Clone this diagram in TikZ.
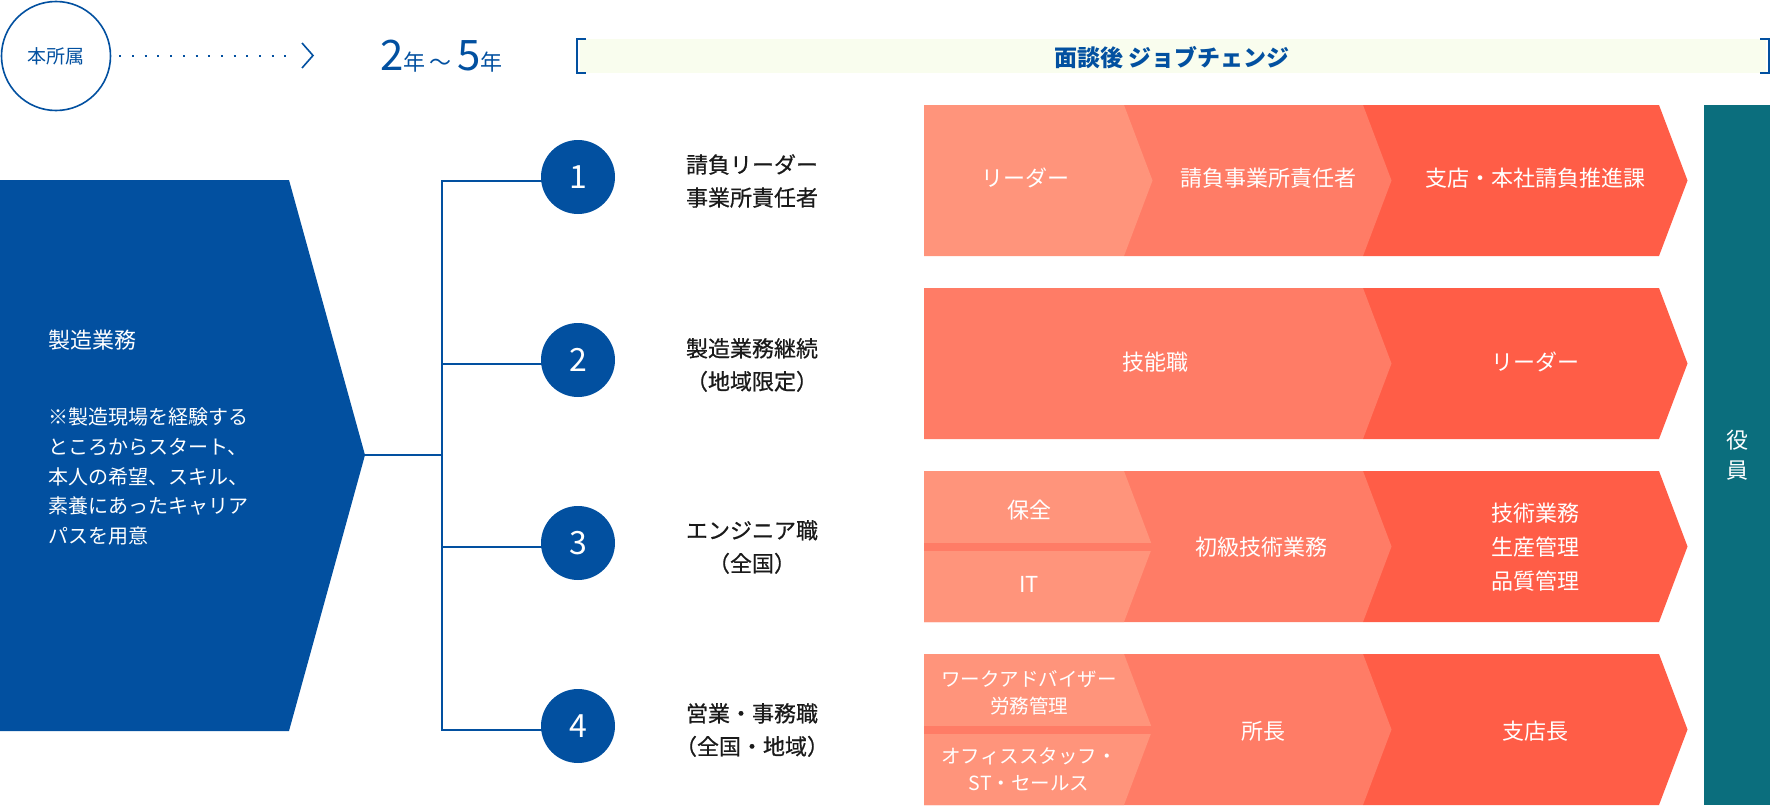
\documentclass[tikz,border=0pt]{standalone}
\usepackage{fontspec}
\setmainfont{Noto Sans CJK JP}
\newfontfamily\labelfont[FakeBold=0.6]{Noto Sans CJK JP}
\definecolor{cBrand}{HTML}{0250A0}
\definecolor{cLight}{HTML}{FF947B}
\definecolor{cMid}{HTML}{FF7C66}
\definecolor{cStrong}{HTML}{FF5D47}
\definecolor{cTeal}{HTML}{0B6E7D}
\definecolor{cInk}{HTML}{1A1A1A}
\definecolor{cPale}{HTML}{F9FDEE}
\newcommand\chevseg[5]{\fill[#5] (#1,#3) -- (#2,#3) -- ({#2+28.5},{(#3+#4)/2}) -- (#2,#4) -- (#1,#4) -- cycle;}
\tikzset{
  wt/.style={text=white, font=\fontsize{22}{34}\selectfont, inner sep=0pt, align=center},
  wtsmall/.style={text=white, font=\fontsize{19.5}{27}\selectfont, inner sep=0pt, align=center},
  lbl/.style={text=cInk, font=\labelfont\fontsize{22}{33}\selectfont, inner sep=0pt, align=center},
  num/.style={circle, fill=cBrand, minimum size=74pt, inner sep=0pt, text=white, font=\fontsize{32}{32}\selectfont},
  trunk/.style={draw=cBrand, line width=2.7pt},
  dotline/.style={draw=cBrand, line width=2pt, dash pattern=on 2pt off 10.7pt},
  bracketline/.style={draw=cBrand, line width=1.6pt},
}
\begin{document}
\begin{tikzpicture}[x=1pt,y=-1pt]
\useasboundingbox (0,0) rectangle (1772,811);

% ---- top line ----
\node[circle, draw=cBrand, line width=1.6pt, minimum size=109pt, inner sep=0pt,
      text=cBrand, font=\fontsize{19}{19}\selectfont] (hq) at (56,56) {本所属};
\coordinate (dotend) at (294,56);
\draw[dotline] ([xshift=8pt]hq.east) -- (dotend);
\draw[cBrand, line width=1.6pt] (302,43) -- (313,55.5) -- (302,68);
\node[anchor=base west, inner sep=0pt, text=cBrand] (years) at (380,70)
  {{\fontsize{42}{42}\selectfont 2}{\fontsize{22}{22}\selectfont 年\hspace{4pt}～\hspace{6pt}}{\fontsize{42}{42}\selectfont 5}{\fontsize{22}{22}\selectfont 年}};
\fill[cPale] (580,39) rectangle (1766,73);
\draw[bracketline] (586,39) -- (577,39) -- (577,73) -- (586,73);
\draw[bracketline] (1760,39) -- (1769,39) -- (1769,73) -- (1760,73);
\node[text=cBrand, font=\bfseries\fontsize{23}{23}\selectfont, inner sep=0pt] (change) at (1172,58) {面談後 ジョブチェンジ};

% ---- left block ----
\fill[cBrand] (0,180) -- (289,180) -- (365,455) -- (289,731) -- (0,731) -- cycle;
\coordinate (tip) at (365,455);
\node[anchor=west, inner sep=0pt, text=white, font=\fontsize{22}{22}\selectfont] (mfg) at (48,340) {製造業務};
\node[anchor=west, inner sep=0pt, text=white, align=left, font=\fontsize{20}{29.8}\selectfont] (note) at (48,476.5)
  {※製造現場を経験する\\ところからスタート、\\本人の希望、スキル、\\素養にあったキャリア\\パスを用意};

% ---- tree ----
\coordinate (j0) at (442,455);
\coordinate (j1) at (442,181);
\coordinate (j2) at (442,364);
\coordinate (j3) at (442,547);
\coordinate (j4) at (442,730);
\coordinate (c1p) at (578,177);
\coordinate (c2p) at (578,360);
\coordinate (c3p) at (578,543);
\coordinate (c4p) at (578,726);
\draw[trunk] (tip) -- (j0);
\draw[trunk, line join=miter] (j1 -| c1p) -- (j1) -- (j4) -- (j4 -| c4p);
\draw[trunk] (j2) -- (j2 -| c2p);
\draw[trunk] (j3) -- (j3 -| c3p);
\node[num] (c1) at (c1p) {1};
\node[num] (c2) at (c2p) {2};
\node[num] (c3) at (c3p) {3};
\node[num] (c4) at (c4p) {4};

\node[lbl] (l1) at (752,181) {請負リーダー\\事業所責任者};
\node[lbl] (l2) at (752,365) {製造業務継続\\（地域限定）};
\node[lbl] (l3) at (752,547) {エンジニア職\\（全国）};
\node[lbl] (l4) at (752,730) {営業・事務職\\（全国・地域）};

% ---- row 1 ----
\chevseg{1363}{1659}{105}{256}{cStrong}
\chevseg{1124}{1363}{105}{256}{cMid}
\chevseg{924}{1124}{105}{256}{cLight}
\node[wt] (r1a) at (1025,178) {リーダー};
\node[wt] (r1b) at (1268,178) {請負事業所責任者};
\node[wt] (r1c) at (1535,178) {支店・本社請負推進課};

% ---- row 2 ----
\chevseg{1363}{1659}{288}{439}{cStrong}
\chevseg{924}{1363}{288}{439}{cMid}
\node[wt] (r2a) at (1155,362) {技能職};
\node[wt] (r2b) at (1535,362) {リーダー};

% ---- row 3 ----
\chevseg{1363}{1659}{471}{622}{cStrong}
\chevseg{924}{1363}{471}{622}{cMid}
\chevseg{924}{1124}{471}{622}{cLight}
\fill[cMid] (924,543) rectangle (1160,550.5);
\node[wt] (r3a) at (1029,510) {保全};
\node[wt] (r3b) at (1029,584) {IT};
\node[wt] (r3c) at (1261,547) {初級技術業務};
\node[wt] (r3d) at (1535,547) {技術業務\\生産管理\\品質管理};

% ---- row 4 ----
\chevseg{1363}{1659}{654}{805}{cStrong}
\chevseg{924}{1363}{654}{805}{cMid}
\chevseg{924}{1124}{654}{805}{cLight}
\fill[cMid] (924,726) rectangle (1160,733.5);
\node[wtsmall] (r4a) at (1029,693) {ワークアドバイザー\\労務管理};
\node[wtsmall] (r4b) at (1029,769) {オフィススタッフ・\\ST・セールス};
\node[wt] (r4c) at (1263,731) {所長};
\node[wt] (r4d) at (1535,731) {支店長};

% ---- executive ----
\fill[cTeal] (1704,105) rectangle (1770,805);
\node[text=white, font=\fontsize{22}{30}\selectfont, inner sep=0pt, align=center] (exec) at (1737,455) {役\\員};
\end{tikzpicture}
\end{document}
